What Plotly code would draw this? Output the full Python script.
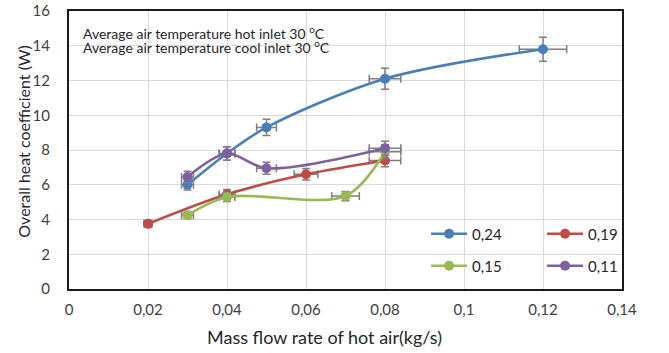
import plotly.graph_objects as go

# ---- data ----
x_024 = [0.03, 0.04, 0.05, 0.08, 0.12]
y_024 = [6.0, 7.8, 9.3, 12.1, 13.8]

x_019 = [0.02, 0.04, 0.06, 0.08]
y_019 = [3.75, 5.45, 6.6, 7.4]

x_015 = [0.03, 0.04, 0.07, 0.08]
y_015 = [4.25, 5.3, 5.35, 7.9]

x_011 = [0.03, 0.04, 0.05, 0.08]
y_011 = [6.45, 7.8, 6.95, 8.1]

series_names = ["0,24", "0,19", "0,15", "0,11"]
colors = ["#4A7EBB", "#BE4B48", "#98B954", "#7D60A0"]
note_lines = ["Average air temperature hot inlet 30 <sup>o</sup>C",
              "Average air temperature cool inlet 30 <sup>o</sup>C"]
x_title = "Mass flow rate of hot air(kg/s)"
y_title = "Overall heat coefficient (W)"

FONT = "Lato"
PL, PR, PT, PB = 69, 642, 11, 289          # plot area in pixels
PW, PH = PR - PL, PB - PT


def px_x(p):
    return (p - PL) / PW


def px_y(p):
    return (PB - p) / PH


series = [(x_024, y_024), (x_019, y_019), (x_015, y_015), (x_011, y_011)]
legends = ["legend", "legend", "legend2", "legend2"]

fig = go.Figure()
for (xs, ys), name, col, lg in zip(series, series_names, colors, legends):
    fig.add_trace(go.Scatter(
        x=xs, y=ys, name=name, mode="lines+markers",
        line=dict(color=col, width=2.6, shape="spline", smoothing=0.9),
        marker=dict(color=col, size=10, symbol="circle"),
        error_x=dict(type="percent", value=5, color="#7F7F7F", thickness=1.5, width=4),
        error_y=dict(type="percent", value=5, color="#7F7F7F", thickness=1.5, width=4),
        legend=lg,
    ))

for i, t in enumerate(note_lines):
    fig.add_annotation(
        text=t, xref="paper", yref="paper",
        x=px_x(81), y=px_y(33 + 13 * i),
        xanchor="left", yanchor="middle", showarrow=False,
        font=dict(family=FONT, size=14, color="#262626"),
    )

# axis titles
fig.add_annotation(
    text=x_title, xref="paper", yref="paper", x=px_x(334), y=px_y(337),
    xanchor="center", yanchor="middle", showarrow=False,
    font=dict(family=FONT, size=18, color="#262626"),
)
fig.add_annotation(
    text=y_title, xref="paper", yref="paper", x=px_x(21), y=px_y(142),
    xanchor="center", yanchor="middle", showarrow=False, textangle=-90,
    font=dict(family=FONT, size=16, color="#262626"),
)

legend_common = dict(
    orientation="h", xanchor="left", yanchor="middle",
    font=dict(family=FONT, size=15, color="#262626"),
    bgcolor="rgba(0,0,0,0)", entrywidth=65, entrywidthmode="pixels",
    itemwidth=36,
)

fig.update_layout(
    width=669, height=353,
    margin=dict(l=PL, r=669 - PR, t=PT, b=353 - PB),
    paper_bgcolor="white", plot_bgcolor="white",
    separators=", ",
    font=dict(family=FONT, size=15, color="#404040"),
    showlegend=True,
    legend=dict(x=px_x(439), y=px_y(234), **legend_common),
    legend2=dict(x=px_x(439), y=px_y(266), **legend_common),
    xaxis=dict(
        range=[0, 0.14], dtick=0.02, tick0=0, automargin=False,
        showgrid=True, gridcolor="#D9D9D9", gridwidth=1,
        showline=True, linecolor="#1A1A1A", linewidth=2, mirror=True,
        zeroline=False, ticks="", ticklabelstandoff=6,
        tickfont=dict(family=FONT, size=15, color="#404040"),
    ),
    yaxis=dict(
        range=[0, 16], dtick=2, tick0=0, automargin=False,
        showgrid=True, gridcolor="#D9D9D9", gridwidth=1,
        showline=True, linecolor="#1A1A1A", linewidth=2, mirror=True,
        zeroline=False, ticks="", ticklabelstandoff=14,
        tickfont=dict(family=FONT, size=15, color="#404040"),
    ),
)

fig.write_html("out.html")
